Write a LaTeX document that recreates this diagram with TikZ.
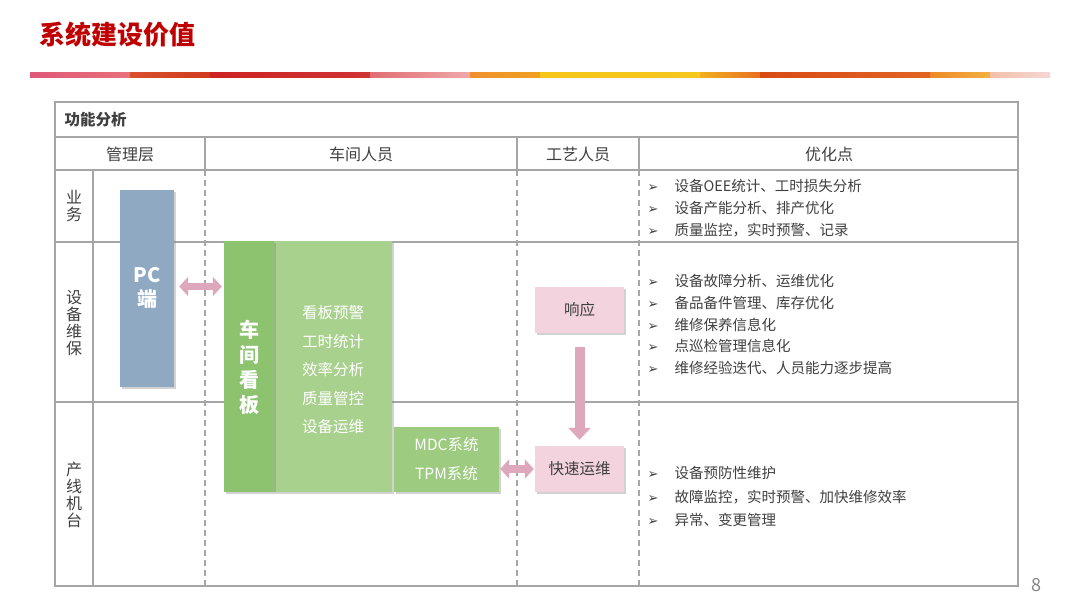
\documentclass[tikz,border=0pt]{standalone}
\usepackage{fontspec}
\setmainfont{Noto Sans CJK SC}
\newfontfamily\symfont{DejaVu Sans}
\usetikzlibrary{arrows.meta,shadows}
\definecolor{titlered}{HTML}{C00000}
\definecolor{gridgray}{HTML}{A6A6A6}
\definecolor{txt}{HTML}{404040}
\definecolor{pcblue}{HTML}{8EA9C1}
\definecolor{kbgreen}{HTML}{8DC26F}
\definecolor{lgreen}{HTML}{A9D18E}
\definecolor{mgreen}{HTML}{9DCB80}
\definecolor{pinkbox}{HTML}{F2D3DE}
\definecolor{pinkarrow}{HTML}{DFA7BB}
\newcommand\bl{\makebox[27pt][l]{\symfont\fontsize{13}{13}\selectfont ➢}}
\begin{document}
\begin{tikzpicture}[x=1pt,y=-1pt,
  tline/.style={draw=gridgray,line width=1.4pt},
  dline/.style={draw=gridgray,line width=1.1pt,dash pattern=on 6pt off 4pt},
  box/.style={inner sep=0pt,drop shadow={opacity=0.35,shadow xshift=2pt,shadow yshift=-2pt}},
  hdr/.style={text=txt,font=\fontsize{16}{20}\selectfont},
  rowlbl/.style={text=txt,align=center,font=\fontsize{16}{17}\selectfont},
  btxt/.style={anchor=west,align=left,text=txt},
  fatarrow/.style={draw=pinkarrow,line width=7.5pt,{Triangle[length=9pt,width=19pt]}-{Triangle[length=9pt,width=19pt]}},
  downarrow/.style={draw=pinkarrow,line width=10pt,-{Triangle[length=12pt,width=22pt]}}
]
\useasboundingbox (0,0) rectangle (1080,608);
\fill[white] (0,0) rectangle (1080,608);
% title
\node[anchor=west,text=titlered,font=\fontsize{26}{30}\selectfont\bfseries] (title) at (36,35) {系统建设价值};
% colour band
\foreach \a/\b/\ca/\cb in {
  30/130/E05878/E8707A,
  130/210/D8502C/D03A1E,
  210/370/CC2222/D03434,
  370/470/E06E74/F0A8A8,
  470/540/F09030/F0A020,
  540/700/F5C518/F5C820,
  700/760/F2B020/E87020,
  760/930/D84A14/E06424,
  930/990/EE8A28/F2B040,
  990/1050/F2C0A8/F6D6D6}{
  \definecolor{bandA}{HTML}{\ca}
  \definecolor{bandB}{HTML}{\cb}
  \fill[left color=bandA,right color=bandB] (\a,72) rectangle (\b,77);
}
% table
\draw[tline] (55,102) rectangle (1018,586);
\draw[tline] (55,137) -- (1018,137);
\draw[tline] (55,170) -- (1018,170);
\draw[tline] (55,242) -- (1018,242);
\draw[tline] (55,402) -- (1018,402);
\draw[tline] (93,170) -- (93,586);
\foreach \x in {205,517,639}{
  \draw[tline] (\x,137) -- (\x,170);
  \draw[dline] (\x,170) -- (\x,586);
}
\node[anchor=west,text=txt,font=\fontsize{15.5}{20}\selectfont\bfseries] (fn) at (61,120) {功能分析};
\node[hdr] (h1) at (130,154) {管理层};
\node[hdr] (h2) at (361,154) {车间人员};
\node[hdr] (h3) at (578,154) {工艺人员};
\node[hdr] (h4) at (829,154) {优化点};
\node[rowlbl] (r1) at (74,206) {业\\务};
\node[rowlbl] (r2) at (74,323) {设\\备\\维\\保};
\node[rowlbl] (r3) at (74,495) {产\\线\\机\\台};
% boxes
\node[box,fill=pcblue,minimum width=54pt,minimum height=197pt] (pc) at (147,288.5) {};
\node[text=white,align=center,font=\fontsize{20}{24}\selectfont\bfseries] (pct) at (147,288) {PC\\端};
\node[box,fill=lgreen,minimum width=118pt,minimum height=251pt] (kbl) at (333,366.5) {};
\node[box,fill=kbgreen,minimum width=50pt,minimum height=251pt] (kb) at (249,366.5) {};
\node[text=white,align=center,font=\fontsize{20}{25}\selectfont\bfseries] (kbt) at (249,367) {车\\间\\看\\板};
\node[text=white,align=center,font=\fontsize{15.5}{28.5}\selectfont] (kbf) at (333,370) {看板预警\\工时统计\\效率分析\\质量管控\\设备运维};
\node[box,fill=mgreen,minimum width=105pt,minimum height=65pt,text=white,align=center,font=\fontsize{15.5}{29}\selectfont] (mdc) at (446.5,459.5) {MDC系统\\TPM系统};
\node[box,fill=pinkbox,minimum width=89pt,minimum height=46pt,text=txt,font=\fontsize{15.5}{20}\selectfont] (xy) at (579.5,310) {响应};
\node[box,fill=pinkbox,minimum width=89pt,minimum height=46pt,text=txt,font=\fontsize{15.5}{20}\selectfont] (ks) at (579.5,469) {快速运维};
% arrows
\draw[fatarrow] ([xshift=5pt,yshift=2pt]pc.east) -- ([xshift=-2pt,yshift=2pt]pc.east -| kb.west);
\draw[fatarrow] ([xshift=1pt]mdc.east |- ks.west) -- ([xshift=-1pt]ks.west);
\draw[downarrow,shorten <=14pt,shorten >=6pt] (xy.south) -- (ks.north);
% bullet lists
\node[btxt,font=\fontsize{14.5}{22}\selectfont] (b1) at (644,208) {\bl 设备OEE统计、工时损失分析\\\bl 设备产能分析、排产优化\\\bl 质量监控，实时预警、记录};
\node[btxt,font=\fontsize{14.5}{21.75}\selectfont] (b2) at (644,324.5) {\bl 设备故障分析、运维优化\\\bl 备品备件管理、库存优化\\\bl 维修保养信息化\\\bl 点巡检管理信息化\\\bl 维修经验迭代、人员能力逐步提高};
\node[btxt,font=\fontsize{14.5}{23.5}\selectfont] (b3) at (644,496.5) {\bl 设备预防性维护\\\bl 故障监控，实时预警、加快维修效率\\\bl 异常、变更管理};
\node[text=gridgray!80!black,font=\fontsize{18}{20}\selectfont] (pg) at (1036,585) {8};
\end{tikzpicture}
\end{document}
